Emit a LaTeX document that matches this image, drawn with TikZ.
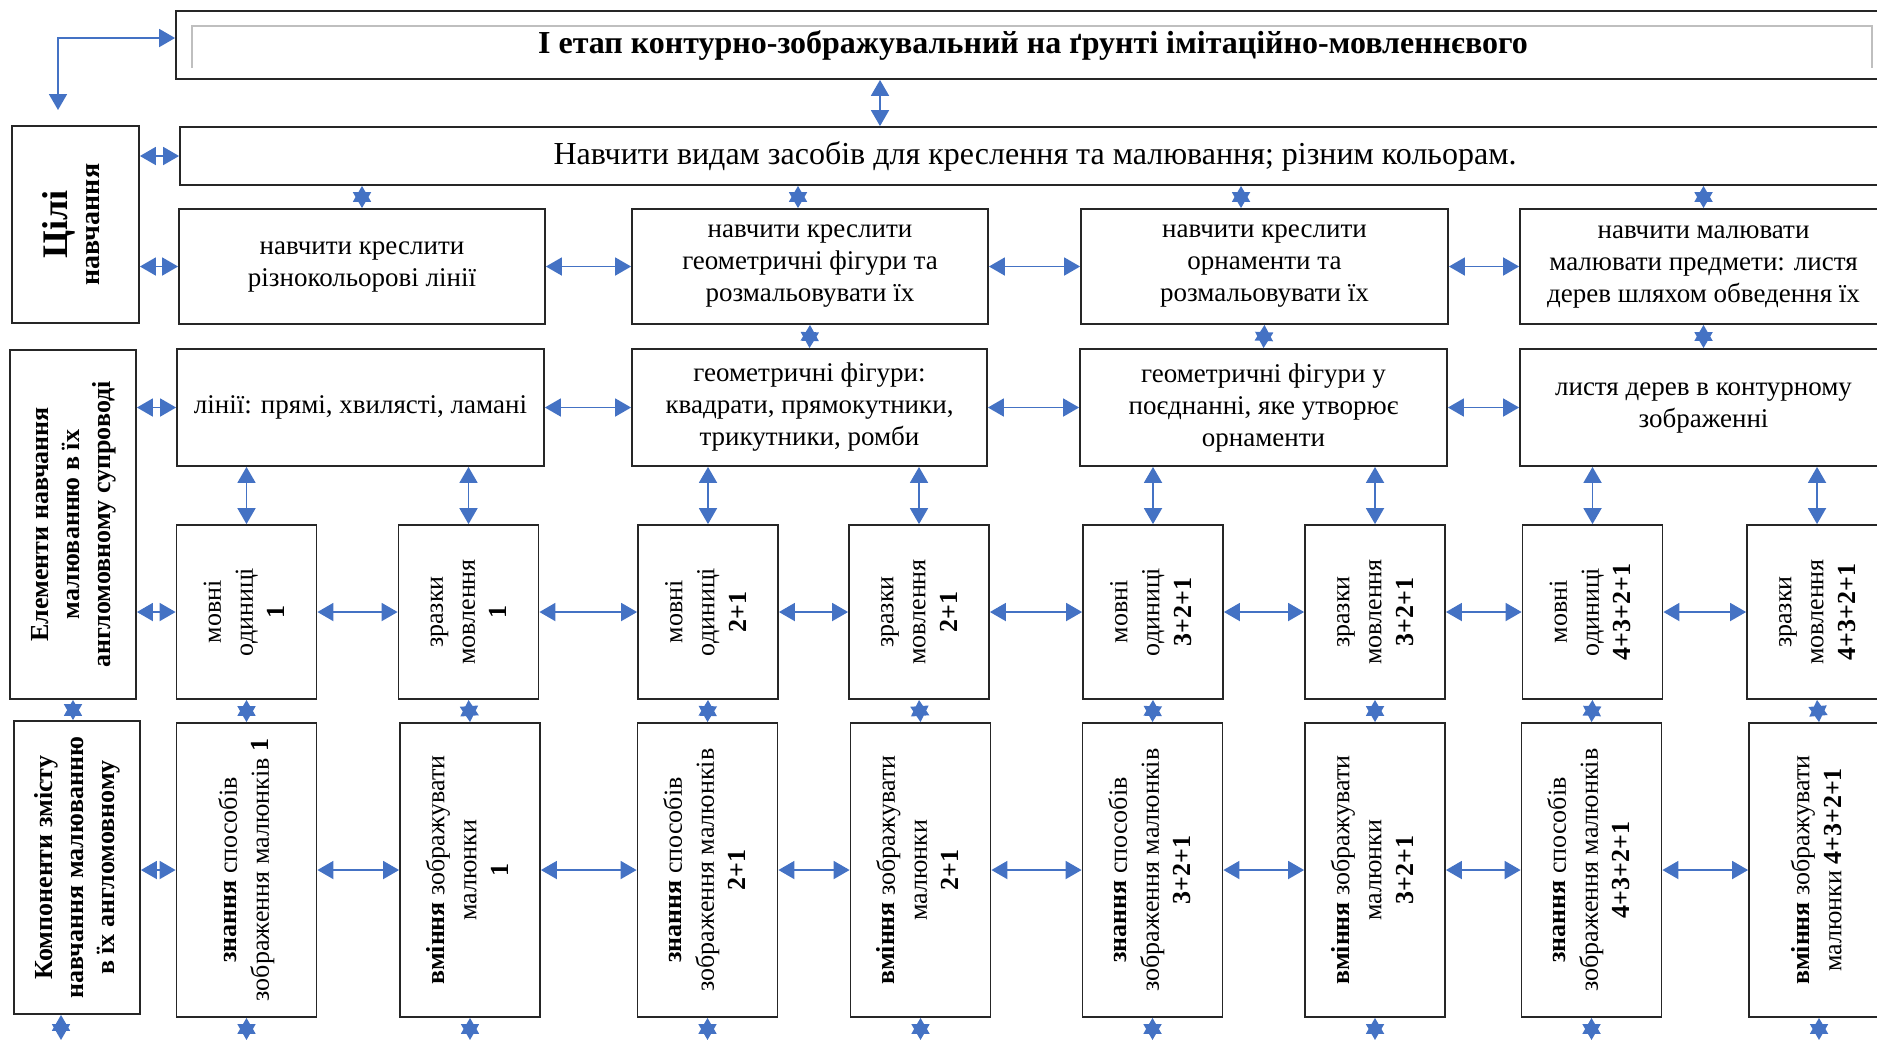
\documentclass[tikz,border=0pt]{standalone}
\usepackage{fontspec}
\setmainfont{Liberation Serif}
\usepackage{graphicx}
\usetikzlibrary{arrows.meta}
\definecolor{linkblue}{HTML}{4472C4}
\newcommand{\vtext}[1]{\rotatebox{90}{\begin{tabular}{@{}c@{}}#1\end{tabular}}}
\tikzset{
  box/.style={draw=black!85, line width=0.9pt, align=center, inner sep=2pt,
    font=\fontsize{13pt}{16pt}\selectfont},
  aimbox/.style={box, minimum width=#1, minimum height=57.5pt,
    font=\fontsize{13.5pt}{16pt}\selectfont},
  elbox/.style={box, minimum width=#1, minimum height=58.5pt,
    font=\fontsize{13.5pt}{16pt}\selectfont},
  cell/.style={box, minimum width=70pt, minimum height=87pt},
  tallcell/.style={box, minimum width=70pt, minimum height=147pt},
  link/.style={linkblue, line width=0.9pt,
    {Triangle[length=8pt,width=9pt]}-{Triangle[length=8pt,width=9pt]}}
}

\begin{document}
\begin{tikzpicture}[x=0.5pt, y=-0.5pt]
\useasboundingbox (0,0) rectangle (1877,1041);
\clip (0,0) rectangle (1877,1041);

\node[box, minimum width=857pt, minimum height=34pt, font=\fontsize{16pt}{19pt}\selectfont\bfseries] (title) at (1033,45) {І етап контурно-зображувальний на ґрунті імітаційно-мовленнєвого};
\draw[black!25, line width=0.6pt] (192,68) -- (192,26) -- (1872,26) -- (1872,68);
\node[box, minimum width=855pt, minimum height=29pt, font=\fontsize{16pt}{19pt}\selectfont] (plan) at (1035,156) {Навчити видам засобів для креслення та малювання; різним кольорам.};

\node[box, minimum width=63.5pt, minimum height=98.5pt] (goals) at (75.5,224.5) {\vtext{\fontsize{18pt}{20pt}\selectfont\bfseries Цілі\\ \fontsize{14pt}{16pt}\selectfont\bfseries навчання}};
\node[box, minimum width=63pt, minimum height=174.5pt, font=\fontsize{13pt}{15.5pt}\selectfont\bfseries] (elements) at (73,524.5) {\vtext{Елементи навчання\\ малюванню в їх\\ англомовному супроводі}};
\node[box, minimum width=63pt, minimum height=146.5pt, font=\fontsize{13pt}{15.5pt}\selectfont\bfseries] (parts) at (77,867.5) {\vtext{Компоненти змісту\\ навчання малюванню\\ в їх англомовному}};

\node[aimbox=183pt] (aim1) at (362,266.5) {навчити креслити\\ різнокольорові лінії};
\node[aimbox=178pt] (aim2) at (810,266.5) {навчити креслити\\ геометричні фігури та\\ розмальовувати їх};
\node[aimbox=183.5pt] (aim3) at (1264.5,266.5) {навчити креслити\\ орнаменти та\\ розмальовувати їх};
\node[aimbox=183.5pt] (aim4) at (1703.5,266.5) {навчити малювати\\ малювати предмети: листя\\ дерев шляхом обведення їх};

\node[elbox=183.5pt] (el1) at (360.5,407.5) {лінії: прямі, хвилясті, ламані};
\node[elbox=177.5pt] (el2) at (809.5,407.5) {геометричні фігури:\\ квадрати, прямокутники,\\ трикутники, ромби};
\node[elbox=183.5pt] (el3) at (1263.5,407.5) {геометричні фігури у\\ поєднанні, яке утворює\\ орнаменти};
\node[elbox=183.5pt] (el4) at (1703.5,407.5) {листя дерев в контурному\\ зображенні};

\node[cell] (unit1) at (246.5,612) {\vtext{мовні\\ одиниці\\ \textbf{1}}};
\node[cell] (speech1) at (468.5,612) {\vtext{зразки\\ мовлення\\ \textbf{1}}};
\node[cell] (unit2) at (708,612) {\vtext{мовні\\ одиниці\\ \textbf{2+1}}};
\node[cell] (speech2) at (919,612) {\vtext{зразки\\ мовлення\\ \textbf{2+1}}};
\node[cell] (unit3) at (1153,612) {\vtext{мовні\\ одиниці\\ \textbf{3+2+1}}};
\node[cell] (speech3) at (1375,612) {\vtext{зразки\\ мовлення\\ \textbf{3+2+1}}};
\node[cell] (unit4) at (1592.5,612) {\vtext{мовні\\ одиниці\\ \textbf{4+3+2+1}}};
\node[cell] (speech4) at (1817,612) {\vtext{зразки\\ мовлення\\ \textbf{4+3+2+1}}};

\node[tallcell] (know1) at (246.5,870) {\vtext{\textbf{знання} способів\\ зображення малюнків \textbf{1}}};
\node[tallcell] (skill1) at (470,870) {\vtext{\textbf{вміння} зображувати\\ малюнки\\ \textbf{1}}};
\node[tallcell] (know2) at (707.5,870) {\vtext{\textbf{знання} способів\\ зображення малюнків\\ \textbf{2+1}}};
\node[tallcell] (skill2) at (920.5,870) {\vtext{\textbf{вміння} зображувати\\ малюнки\\ \textbf{2+1}}};
\node[tallcell] (know3) at (1152.5,870) {\vtext{\textbf{знання} способів\\ зображення малюнків\\ \textbf{3+2+1}}};
\node[tallcell] (skill3) at (1375,870) {\vtext{\textbf{вміння} зображувати\\ малюнки\\ \textbf{3+2+1}}};
\node[tallcell] (know4) at (1591.5,870) {\vtext{\textbf{знання} способів\\ зображення малюнків\\ \textbf{4+3+2+1}}};
\node[tallcell] (skill4) at (1819,870) {\vtext{\textbf{вміння} зображувати\\ малюнки \textbf{4+3+2+1}}};

\coordinate (titleend) at (58,110);
\coordinate (titlefoot) at ([xshift=-76.5pt]title.south);
\coordinate (aim2top) at ([xshift=-6pt]aim2.north);
\coordinate (aim3top) at ([xshift=-11.75pt]aim3.north);
\coordinate (partsfoot) at ([xshift=-8pt]parts.south);
\coordinate (bottom) at (0,1040);

\draw[link] ([yshift=3.5pt]title.west) -| (titleend);
\draw[link] (titlefoot) -- (titlefoot |- plan.north);
\draw[link] (goals.east |- plan.west) -- (plan.west);
\draw[link] (goals.east |- aim1.west) -- (aim1.west);
\draw[link] (aim1.north |- plan.south) -- (aim1.north);
\draw[link] (aim2top |- plan.south) -- (aim2top);
\draw[link] (aim3top |- plan.south) -- (aim3top);
\draw[link] (aim4.north |- plan.south) -- (aim4.north);
\draw[link] (aim1.east) -- (aim2.west);
\draw[link] (aim2.east) -- (aim3.west);
\draw[link] (aim3.east) -- (aim4.west);
\draw[link] (aim2.south) -- (el2.north);
\draw[link] (aim3.south) -- (el3.north);
\draw[link] (aim4.south) -- (el4.north);

\draw[link] (elements.east |- el1.west) -- (el1.west);
\draw[link] (el1.east) -- (el2.west);
\draw[link] (el2.east) -- (el3.west);
\draw[link] (el3.east) -- (el4.west);
\draw[link] (unit1.north |- el1.south) -- (unit1.north);
\draw[link] (speech1.north |- el1.south) -- (speech1.north);
\draw[link] (unit2.north |- el2.south) -- (unit2.north);
\draw[link] (speech2.north |- el2.south) -- (speech2.north);
\draw[link] (unit3.north |- el3.south) -- (unit3.north);
\draw[link] (speech3.north |- el3.south) -- (speech3.north);
\draw[link] (unit4.north |- el4.south) -- (unit4.north);
\draw[link] (speech4.north |- el4.south) -- (speech4.north);

\draw[link] (elements.east |- unit1.west) -- (unit1.west);
\draw[link] (unit1.east) -- (speech1.west);
\draw[link] (speech1.east) -- (unit2.west);
\draw[link] (unit2.east) -- (speech2.west);
\draw[link] (speech2.east) -- (unit3.west);
\draw[link] (unit3.east) -- (speech3.west);
\draw[link] (speech3.east) -- (unit4.west);
\draw[link] (unit4.east) -- (speech4.west);

\draw[link] (elements.south) -- (elements.south |- parts.north);
\draw[link] (unit1.south) -- (know1.north);
\draw[link] (speech1.south) -- (skill1.north);
\draw[link] (unit2.south) -- (know2.north);
\draw[link] (speech2.south) -- (skill2.north);
\draw[link] (unit3.south) -- (know3.north);
\draw[link] (speech3.south) -- (skill3.north);
\draw[link] (unit4.south) -- (know4.north);
\draw[link] (speech4.south) -- (skill4.north);

\draw[link] (parts.east |- know1.west) -- (know1.west);
\draw[link] (know1.east) -- (skill1.west);
\draw[link] (skill1.east) -- (know2.west);
\draw[link] (know2.east) -- (skill2.west);
\draw[link] (skill2.east) -- (know3.west);
\draw[link] (know3.east) -- (skill3.west);
\draw[link] (skill3.east) -- (know4.west);
\draw[link] (know4.east) -- (skill4.west);

\draw[link] (partsfoot) -- (partsfoot |- bottom);
\draw[link] (know1.south) -- (know1.south |- bottom);
\draw[link] (skill1.south) -- (skill1.south |- bottom);
\draw[link] (know2.south) -- (know2.south |- bottom);
\draw[link] (skill2.south) -- (skill2.south |- bottom);
\draw[link] (know3.south) -- (know3.south |- bottom);
\draw[link] (skill3.south) -- (skill3.south |- bottom);
\draw[link] (know4.south) -- (know4.south |- bottom);
\draw[link] (skill4.south) -- (skill4.south |- bottom);
\end{tikzpicture}
\end{document}
